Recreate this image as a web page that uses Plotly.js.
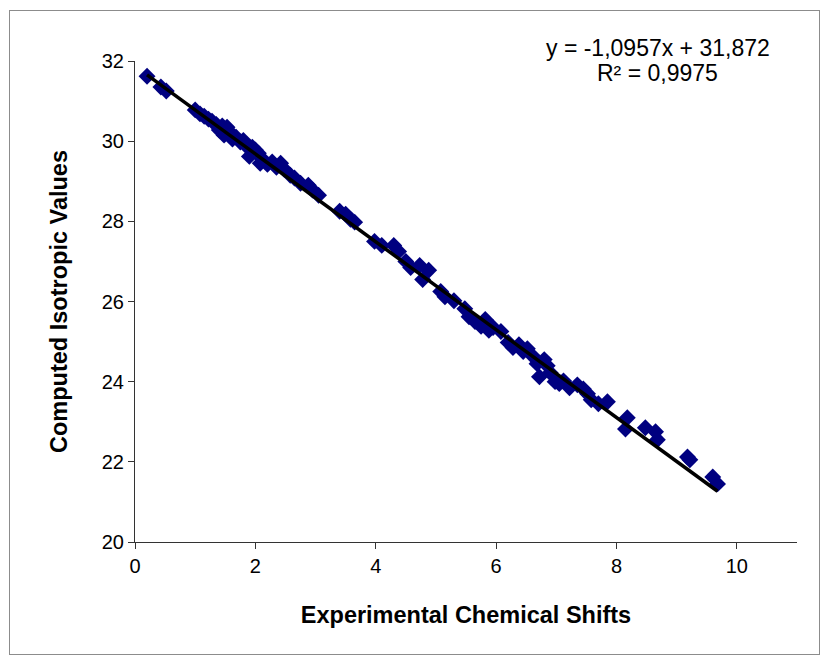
<!DOCTYPE html>
<html>
<head>
<meta charset="utf-8">
<script src="https://cdn.plot.ly/plotly-3.0.1.min.js"></script>
<style>
  html, body { margin: 0; padding: 0; background: #fff; }
  #wrap { position: relative; width: 827px; height: 663px; }
  #frame { position: absolute; left: 9px; top: 10px; width: 809px; height: 643px; border: 1px solid #8c8c8c; pointer-events: none; z-index: 5; }
  #chart { position: absolute; left: 0; top: 0; width: 827px; height: 663px; }
</style>
</head>
<body>
<div id="wrap">
  <div id="chart"></div>
  <div id="frame"></div>
</div>
<script>
// Experimental chemical shifts (x) and computed isotropic values (y)
const expShifts = [
  0.20, 0.43, 0.52, 1.00, 1.08, 1.15, 1.22, 1.28, 1.35, 1.40,
  1.45, 1.48, 1.53, 1.58, 1.62, 1.68, 1.75, 1.80, 1.85, 1.90,
  1.95, 2.00, 2.05, 2.08, 2.12, 2.20, 2.28, 2.35, 2.42, 2.48,
  2.58, 2.65, 2.75, 2.88, 2.95, 3.05, 3.40, 3.50, 3.58, 3.65,
  3.98, 4.10, 4.30, 4.38, 4.50, 4.58, 4.73, 4.78, 4.88, 5.08,
  5.15, 5.30, 5.48, 5.55, 5.65, 5.75, 5.82, 5.88, 5.95, 6.08,
  6.20, 6.28, 6.38, 6.45, 6.52, 6.60, 6.68, 6.72, 6.80, 6.85,
  6.90, 6.98, 7.05, 7.12, 7.22, 7.35, 7.45, 7.52, 7.58, 7.70,
  7.85, 8.18, 8.15, 8.48, 8.65, 8.68, 9.18, 9.22, 9.60, 9.68
];
const isoValues = [
  31.62, 31.35, 31.25, 30.78, 30.68, 30.62, 30.55, 30.50, 30.42, 30.28,
  30.38, 30.15, 30.35, 30.22, 30.05, 30.10, 29.98, 30.02, 29.88, 29.62,
  29.85, 29.78, 29.70, 29.45, 29.55, 29.42, 29.48, 29.35, 29.45, 29.30,
  29.15, 29.08, 28.95, 28.90, 28.78, 28.65, 28.25, 28.18, 28.05, 27.98,
  27.50, 27.40, 27.40, 27.25, 27.00, 26.85, 26.90, 26.55, 26.78, 26.25,
  26.12, 26.02, 25.82, 25.62, 25.50, 25.38, 25.55, 25.28, 25.35, 25.25,
  24.98, 24.85, 24.92, 24.75, 24.82, 24.65, 24.45, 24.12, 24.55, 24.40,
  24.22, 24.00, 23.95, 24.02, 23.85, 23.92, 23.82, 23.70, 23.55, 23.45,
  23.50, 23.10, 22.82, 22.85, 22.75, 22.55, 22.12, 22.05, 21.62, 21.45
];
// Linear trendline coefficients shown on the chart
const fitSlope = -1.0957;
const fitIntercept = 31.872;
const rSquared = 0.9975;
const xTicks = [0, 2, 4, 6, 8, 10];
const yTicks = [20, 22, 24, 26, 28, 30, 32];

const xMin = Math.min(...expShifts), xMax = Math.max(...expShifts);
const lineX = [xMin, xMax];
const lineY = lineX.map(v => fitSlope * v + fitIntercept);

const fmt = (v, d) => v.toFixed(d).replace('.', ',');

const traces = [
  {
    x: expShifts, y: isoValues, type: 'scatter', mode: 'markers',
    marker: { symbol: 'diamond', size: 13, color: '#000080' },
    hoverinfo: 'x+y'
  },
  {
    x: lineX, y: lineY, type: 'scatter', mode: 'lines',
    line: { color: '#000000', width: 3.5 },
    hoverinfo: 'skip'
  }
];

const fam = 'Liberation Sans, Arial, sans-serif';
const tickFont = { family: fam, size: 20, color: '#000' };
const annFont = { family: fam, size: 23, color: '#000' };
const titleFont = { family: fam, size: 23.5, color: '#000', weight: 'bold' };

const layout = {
  width: 827, height: 663,
  margin: { l: 135, r: 30, t: 61, b: 121 },
  paper_bgcolor: '#ffffff', plot_bgcolor: '#ffffff',
  showlegend: false,
  xaxis: {
    range: [0, 11], tickvals: xTicks, ticktext: xTicks.map(String),
    showgrid: false, zeroline: false,
    showline: true, linecolor: '#333', linewidth: 1,
    ticks: 'outside', ticklen: 6, tickcolor: '#333',
    tickfont: tickFont,
    title: { text: '<b>Experimental Chemical Shifts</b>', font: titleFont, standoff: 30 },
    automargin: false
  },
  yaxis: {
    range: [20, 32], tickvals: yTicks, ticktext: yTicks.map(String),
    showgrid: false, zeroline: false,
    showline: true, linecolor: '#333', linewidth: 1,
    ticks: 'outside', ticklen: 6, tickcolor: '#333',
    tickfont: tickFont,
    title: { text: '<b>Computed Isotropic Values</b>', font: titleFont, standoff: 27 },
    automargin: false
  },
  annotations: [
    {
      xref: 'paper', yref: 'paper', x: 0.79, y: 1.0, xanchor: 'center', yanchor: 'middle',
      yshift: 13,
      text: 'y = ' + fmt(fitSlope, 4) + 'x + ' + fmt(fitIntercept, 3),
      showarrow: false, font: annFont
    },
    {
      xref: 'paper', yref: 'paper', x: 0.79, y: 1.0, xanchor: 'center', yanchor: 'middle',
      yshift: -12,
      text: 'R² = ' + fmt(rSquared, 4),
      showarrow: false, font: annFont
    }
  ]
};

Plotly.newPlot('chart', traces, layout, { displayModeBar: false, staticPlot: true });
</script>
</body>
</html>
